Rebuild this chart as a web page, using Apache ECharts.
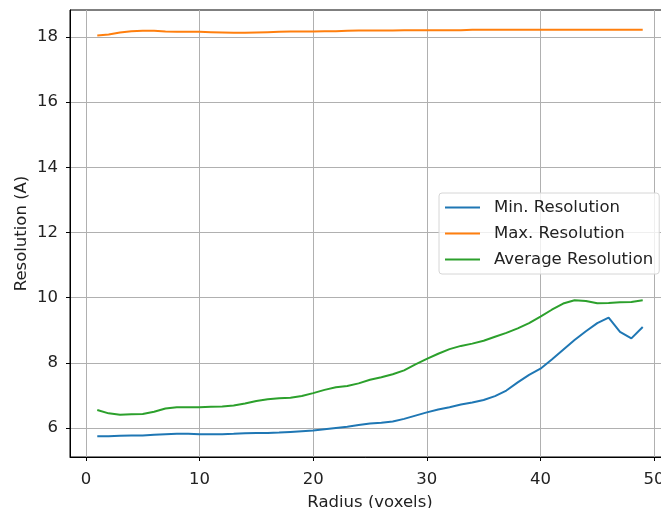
<!DOCTYPE html>
<html>
<head>
<meta charset="utf-8">
<script src="https://cdn.jsdelivr.net/npm/echarts@6/dist/echarts.min.js"></script>
<style>
  html, body { margin: 0; padding: 0; background: #fff; }
  #main { width: 661px; height: 508px; }
</style>
</head>
<body>
<div id="main"></div>
<script>
// radius in voxels
var radius = [];
for (var r = 1; r <= 49; r++) radius.push(r);

var minRes = [5.75, 5.75, 5.76, 5.77, 5.77, 5.79, 5.81, 5.82, 5.82, 5.81,
  5.81, 5.81, 5.82, 5.84, 5.85, 5.85, 5.86, 5.88, 5.90, 5.92,
  5.96, 6.00, 6.04, 6.09, 6.14, 6.16, 6.20, 6.28, 6.38, 6.48,
  6.57, 6.64, 6.72, 6.78, 6.86, 6.98, 7.15, 7.40, 7.63, 7.82,
  8.10, 8.40, 8.70, 8.97, 9.22, 9.39, 8.95, 8.75, 9.10];

var maxRes = [18.05, 18.08, 18.14, 18.18, 18.19, 18.19, 18.17, 18.16, 18.16, 18.16,
  18.15, 18.14, 18.13, 18.13, 18.14, 18.15, 18.16, 18.17, 18.17, 18.17,
  18.18, 18.18, 18.19, 18.20, 18.20, 18.20, 18.20, 18.21, 18.21, 18.21,
  18.21, 18.21, 18.21, 18.22, 18.22, 18.22, 18.22, 18.22, 18.22, 18.22,
  18.22, 18.22, 18.22, 18.22, 18.22, 18.22, 18.22, 18.22, 18.22];

var avgRes = [6.55, 6.45, 6.41, 6.42, 6.43, 6.50, 6.60, 6.64, 6.64, 6.64,
  6.65, 6.66, 6.69, 6.75, 6.83, 6.88, 6.91, 6.93, 6.98, 7.07,
  7.17, 7.25, 7.29, 7.37, 7.48, 7.56, 7.65, 7.77, 7.95, 8.12,
  8.28, 8.42, 8.52, 8.59, 8.68, 8.80, 8.92, 9.06, 9.22, 9.42,
  9.63, 9.82, 9.92, 9.90, 9.83, 9.84, 9.86, 9.87, 9.92];

var xTicks = [0, 10, 20, 30, 40, 50];
var yTicks = [6, 8, 10, 12, 14, 16, 18];

function pairs(ys) {
  return radius.map(function (x, i) { return [x, ys[i]]; });
}

var font = 'DejaVu Sans';
var fs = 16.5;

var chart = echarts.init(document.getElementById('main'), null, { renderer: 'canvas' });
chart.setOption({
  animation: false,
  backgroundColor: '#fff',
  textStyle: { fontFamily: font },
  grid: {
    left: 70, top: 10, width: 600, height: 447,
    outerBoundsMode: 'none',
    show: true, borderColor: '#000', borderWidth: 1, backgroundColor: 'transparent'
  },
  legend: {
    orient: 'vertical',
    left: 439, top: 193,
    padding: [6, 6, 6, 6],
    itemGap: 9,
    itemWidth: 35, itemHeight: 2,
    icon: 'rect',
    backgroundColor: 'rgba(255,255,255,0.8)',
    borderColor: '#d6d6d6', borderWidth: 1, borderRadius: 3,
    textStyle: { fontFamily: font, fontSize: fs, color: '#222', padding: [0, 0, 0, 9] },
    data: ['Min. Resolution', 'Max. Resolution', 'Average Resolution']
  },
  xAxis: {
    type: 'value',
    min: -1.4, max: 51.4,
    name: 'Radius (voxels)',
    nameLocation: 'middle',
    nameGap: 37,
    nameMoveOverlap: false,
    nameTextStyle: { fontFamily: font, fontSize: fs, color: '#222' },
    axisLine: { show: true, onZero: false, lineStyle: { color: '#000', width: 1 } },
    axisTick: { show: true, length: 4, customValues: xTicks, lineStyle: { color: '#000' } },
    axisLabel: { customValues: xTicks, margin: 14, fontFamily: font, fontSize: fs, color: '#222' },
    splitLine: { show: true, lineStyle: { color: '#b0b0b0', width: 1 } }
  },
  yAxis: {
    type: 'value',
    min: 5.11, max: 18.83,
    name: 'Resolution (A)',
    nameLocation: 'middle',
    nameRotate: 90,
    nameGap: 40,
    nameMoveOverlap: false,
    nameTextStyle: { fontFamily: font, fontSize: fs, color: '#222' },
    axisLine: { show: true, onZero: false, lineStyle: { color: '#000', width: 1 } },
    axisTick: { show: true, length: 4, customValues: yTicks, lineStyle: { color: '#000' } },
    axisLabel: { customValues: yTicks, margin: 12, fontFamily: font, fontSize: fs, color: '#222' },
    splitLine: { show: true, lineStyle: { color: '#b0b0b0', width: 1 } }
  },
  series: [
    { name: 'Min. Resolution', type: 'line', data: pairs(minRes), showSymbol: false,
      color: '#1f77b4', lineStyle: { width: 2 } },
    { name: 'Max. Resolution', type: 'line', data: pairs(maxRes), showSymbol: false,
      color: '#ff7f0e', lineStyle: { width: 2 } },
    { name: 'Average Resolution', type: 'line', data: pairs(avgRes), showSymbol: false,
      color: '#2ca02c', lineStyle: { width: 2 } }
  ]
});
</script>
</body>
</html>
